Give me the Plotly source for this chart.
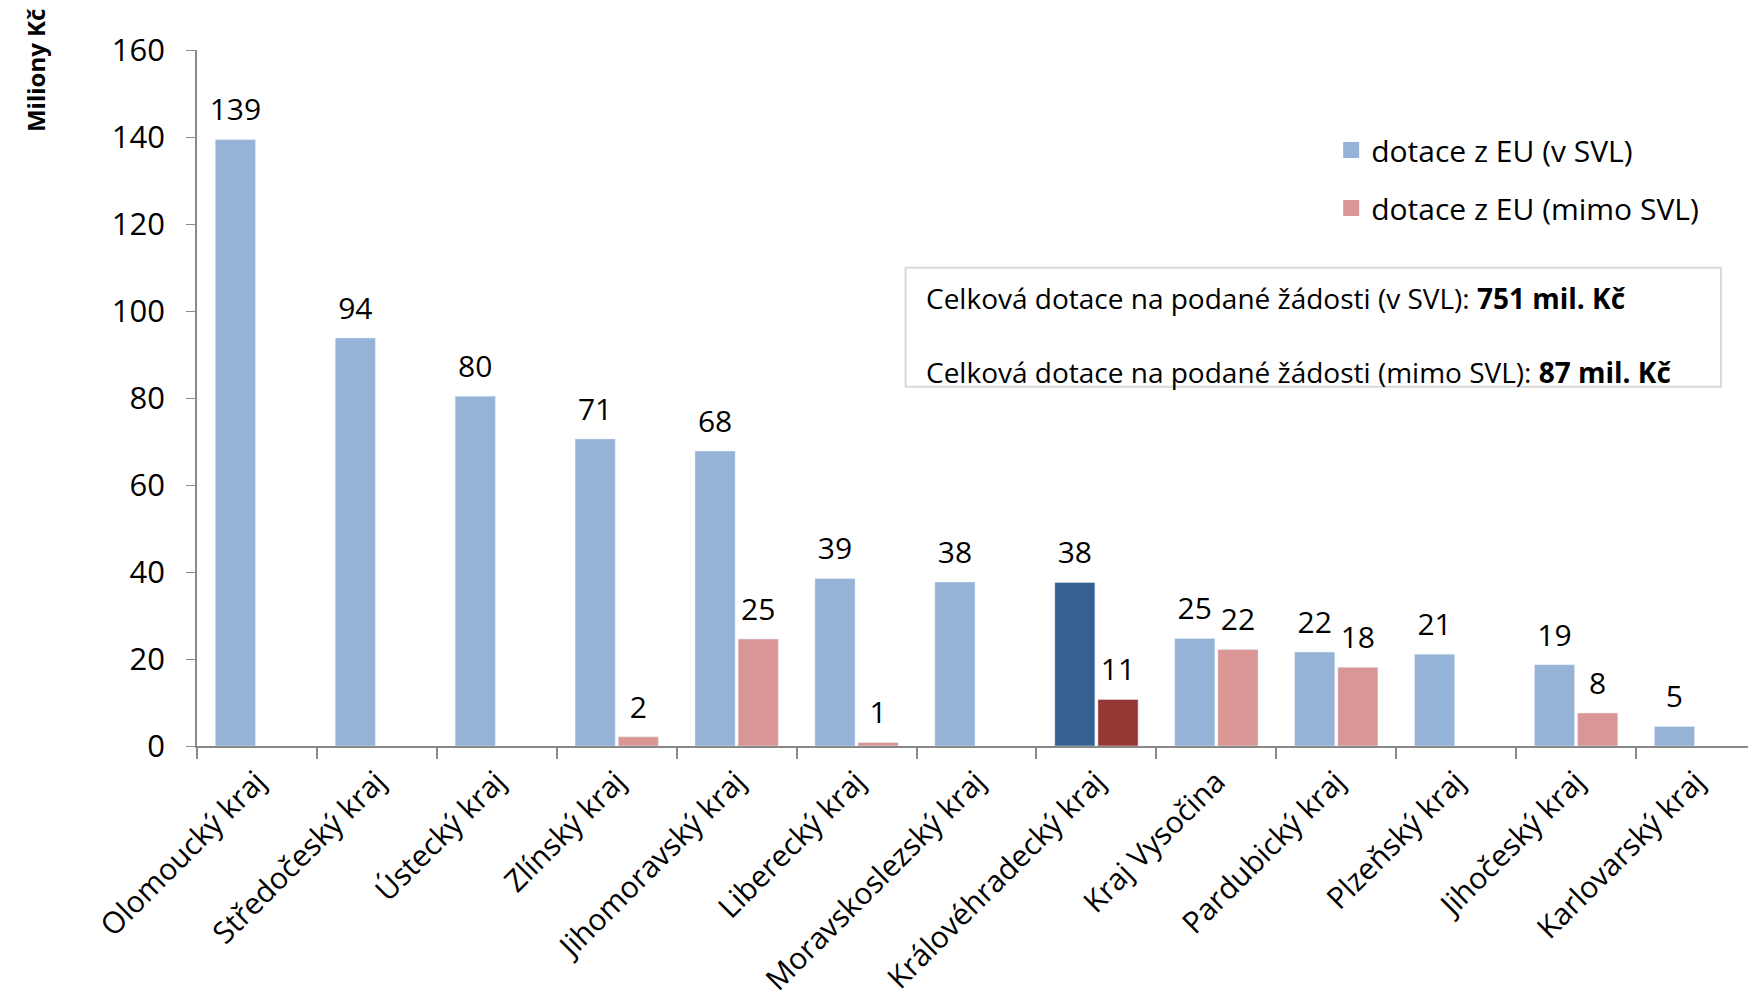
import plotly.graph_objects as go

kraje = [
    "Olomoucký kraj", "Středočeský kraj", "Ústecký kraj", "Zlínský kraj",
    "Jihomoravský kraj", "Liberecký kraj", "Moravskoslezský kraj",
    "Královéhradecký kraj", "Kraj Vysočina", "Pardubický kraj",
    "Plzeňský kraj", "Jihočeský kraj", "Karlovarský kraj",
]
v_svl = [139.4, 93.8, 80.4, 70.6, 67.8, 38.5, 37.7, 37.6, 24.7, 21.6, 21.1, 18.7, 4.5]
mimo_svl = [None, None, None, 2.1, 24.6, 0.8, None, 10.7, 22.2, 18.1, None, 7.6, None]
highlight = "Královéhradecký kraj"
series_names = ["dotace z EU (v SVL)", "dotace z EU (mimo SVL)"]

FONT = "Open Sans"
blue, blue_dark = "#95B3D7", "#376092"
red, red_dark = "#D99694", "#953735"

fig = go.Figure()

series = [("v", v_svl, series_names[0], blue, blue_dark),
          ("m", mimo_svl, series_names[1], red, red_dark)]

for grp, vals, name, c, c_dark in series:
    fig.add_trace(go.Bar(
        x=kraje, y=vals, name=name, showlegend=False, offsetgroup=grp,
        marker_color=[c_dark if k == highlight else c for k in kraje],
    ))

# value labels, grouped the same way as the bars so they sit on top of them
for grp, vals, name, c, c_dark in series:
    fig.add_trace(go.Scatter(
        x=kraje, y=vals, mode="markers+text", offsetgroup=grp,
        marker=dict(size=17, opacity=0), showlegend=False,
        texttemplate="%{y:.0f}", textposition="top center",
        textfont=dict(size=30, color="black"), cliponaxis=False,
        hoverinfo="skip",
    ))

# legend entries with bigger square swatches
for grp, vals, name, c, c_dark in series:
    fig.add_trace(go.Scatter(
        x=[None], y=[None], mode="markers", name=name, legendgroup=grp,
        offsetgroup=grp, marker=dict(symbol="square", size=16, color=c),
    ))

# box with totals
fig.add_shape(type="rect", xref="paper", yref="paper",
              x0=0.4545, x1=0.9775, y0=0.516, y1=0.687,
              line=dict(color="#D9D9D9", width=2), fillcolor="white")
fig.add_annotation(xref="paper", yref="paper", x=0.4665, y=0.644,
                   xanchor="left", yanchor="middle", showarrow=False,
                   text="Celková dotace na podané žádosti (v SVL): <b>751 mil. Kč</b>",
                   font=dict(size=28, color="black"))
fig.add_annotation(xref="paper", yref="paper", x=0.4665, y=0.537,
                   xanchor="left", yanchor="middle", showarrow=False,
                   text="Celková dotace na podané žádosti (mimo SVL): <b>87 mil. Kč</b>",
                   font=dict(size=28, color="black"))

# y axis title placed at top like the original
fig.add_annotation(xref="paper", yref="paper", x=-0.104, y=0.971,
                   xanchor="center", yanchor="middle", showarrow=False,
                   textangle=-90, text="<b>Miliony Kč</b>",
                   font=dict(size=24, color="black"))

# the page body adds an 8px offset, margins account for it
fig.update_layout(
    width=1756, height=1002,
    margin=dict(l=189, r=8, t=42, b=264),
    paper_bgcolor="white", plot_bgcolor="white",
    font=dict(family=FONT, size=30, color="black"),
    barmode="group", bargap=0.28, bargroupgap=0.07,
    scattermode="group", scattergap=0.28,
    legend=dict(x=0.7275, y=0.8935, xanchor="left", yanchor="top",
                font=dict(size=30), tracegroupgap=16,
                bgcolor="rgba(0,0,0,0)"),
)
fig.update_xaxes(
    showline=True, linecolor="#898989", linewidth=2,
    ticks="outside", ticklen=11, tickcolor="#898989", tickwidth=1.5,
    tickson="boundaries", tickangle=-45, tickfont=dict(size=30),
    ticklabelstandoff=4, showgrid=False, automargin=False,
)
fig.update_yaxes(
    range=[0, 160], dtick=20, showline=True, linecolor="#898989", linewidth=1.5,
    ticks="outside", ticklen=9, tickcolor="#898989", showgrid=False,
    zeroline=False, tickfont=dict(size=31), ticklabelstandoff=15,
    automargin=False,
)

fig.write_html("out.html")
